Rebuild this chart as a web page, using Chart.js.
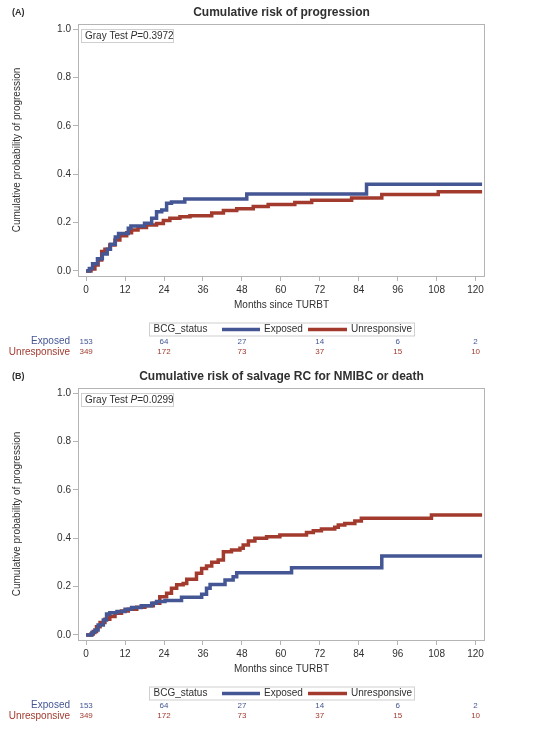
<!DOCTYPE html>
<html>
<head>
<meta charset="utf-8">
<script src="https://cdn.jsdelivr.net/npm/chart.js@4"></script>
<style>
  body { margin: 0; background: #fff; }
  #wrap { width: 533px; height: 738px; position: relative; }
  canvas { position: absolute; left: 0; }
</style>
</head>
<body>
<div id="wrap">
  <canvas id="chartA" width="533" height="364" style="top:0"></canvas>
  <canvas id="chartB" width="533" height="374" style="top:364px"></canvas>
</div>
<script>
// axis ticks
const xTicks = [0, 12, 24, 36, 48, 60, 72, 84, 96, 108, 120];
const yTicks = [0, 0.2, 0.4, 0.6, 0.8, 1.0];

// numbers at risk (same for both panels)
const riskMonths = [0, 24, 48, 72, 96, 120];
const riskExposed = [153, 64, 27, 14, 6, 2];
const riskUnresponsive = [349, 172, 73, 37, 15, 10];

// Panel A - progression, step times (months) and cumulative incidence
const progExposedMonths = [0, 1.0, 2.0, 3.5, 5.0, 6.5, 7.5, 9.0, 10.0, 13.0, 13.8, 18.0, 20.2, 21.7, 23.3, 24.8, 26.3, 30.4, 49.5, 86.4, 122];
const progExposedCif = [0, 0.01, 0.03, 0.05, 0.07, 0.09, 0.11, 0.14, 0.155, 0.176, 0.186, 0.197, 0.218, 0.245, 0.252, 0.28, 0.285, 0.297, 0.318, 0.358, 0.358];
const progUnrespMonths = [0, 1.5, 2.7, 3.7, 4.8, 5.8, 7.3, 8.9, 10.4, 12.5, 14, 16, 18.6, 21.7, 23.8, 25.8, 28.9, 32, 38.7, 42.3, 46.4, 51.5, 56.1, 64.3, 69.5, 81.8, 91.1, 108.5, 122];
const progUnrespCif = [0, 0.008, 0.025, 0.045, 0.08, 0.09, 0.107, 0.128, 0.145, 0.158, 0.169, 0.18, 0.19, 0.196, 0.208, 0.218, 0.224, 0.228, 0.24, 0.25, 0.257, 0.266, 0.275, 0.283, 0.292, 0.302, 0.316, 0.327, 0.327];

// Panel B - salvage RC or death
const rcExposedMonths = [0, 1.8, 2.7, 3.7, 5.3, 6.3, 7.3, 9.5, 12, 14, 17, 20.2, 21.7, 24.3, 29.4, 35.6, 37.1, 38.2, 42.8, 45.3, 46.4, 63.3, 91.1, 122];
const rcExposedCif = [0, 0.01, 0.02, 0.041, 0.062, 0.087, 0.092, 0.097, 0.106, 0.113, 0.121, 0.131, 0.138, 0.142, 0.156, 0.168, 0.193, 0.209, 0.227, 0.241, 0.257, 0.278, 0.326, 0.326];
const rcUnrespMonths = [0, 1.5, 2.2, 3.2, 4.3, 5.8, 7.3, 8.9, 10.9, 13, 15.6, 18.1, 20.7, 22.7, 24.8, 26.3, 27.9, 29.9, 31, 34, 35.6, 37.1, 38.7, 40.7, 42.3, 44.8, 47.4, 48.4, 50, 52, 55.6, 59.7, 67.9, 70, 72.5, 76.6, 77.7, 79.7, 82.8, 84.8, 106.4, 122];
const rcUnrespCif = [0, 0.004, 0.014, 0.034, 0.051, 0.065, 0.076, 0.09, 0.099, 0.106, 0.114, 0.121, 0.131, 0.158, 0.172, 0.193, 0.207, 0.213, 0.23, 0.255, 0.275, 0.285, 0.30, 0.31, 0.344, 0.351, 0.358, 0.372, 0.388, 0.40, 0.406, 0.413, 0.423, 0.431, 0.438, 0.445, 0.454, 0.461, 0.471, 0.482, 0.496, 0.496];

const BLUE = '#445694';
const RED = '#A23A2E';
const FRAME = '#b4b4b4';
const TEXT = '#303030';
const FONT = '"Liberation Sans", Arial, sans-serif';

const toPoints = (months, cif) => months.map((m, i) => ({ x: m, y: cif[i] }));

// titles, frame, p-value box, legend and the at-risk table
const extras = {
  id: 'extras',
  afterDraw(chart, args, opts) {
    const { ctx, chartArea: a, scales: { x } } = chart;
    const midX = (a.left + a.right) / 2;
    ctx.save();

    // plot frame
    ctx.strokeStyle = FRAME;
    ctx.lineWidth = 1;
    ctx.strokeRect(a.left + 0.5, a.top + 0.5, a.right - a.left - 1, a.bottom - a.top);

    ctx.fillStyle = TEXT;
    ctx.textBaseline = 'middle';
    ctx.font = 'bold 9px ' + FONT;
    ctx.textAlign = 'left';
    ctx.fillText(opts.label, 12, 13);
    ctx.font = 'bold 12px ' + FONT;
    ctx.textAlign = 'center';
    ctx.fillText(opts.title, midX, 13);

    // axis titles
    ctx.font = '10px ' + FONT;
    ctx.fillText('Months since TURBT', midX, a.bottom + 29.5);
    ctx.save();
    ctx.translate(17, (a.top + a.bottom) / 2);
    ctx.rotate(-Math.PI / 2);
    ctx.fillText('Cumulative probability of progression', 0, 0);
    ctx.restore();

    // Gray test box
    ctx.strokeStyle = '#cfcfcf';
    ctx.strokeRect(a.left + 3.5, a.top + 5.5, 92, 13);
    ctx.textAlign = 'left';
    let tx = a.left + 7;
    const ty = a.top + 12;
    ctx.font = '10px ' + FONT;
    ctx.fillText('Gray Test ', tx, ty);
    tx += ctx.measureText('Gray Test ').width;
    ctx.font = 'italic 10px ' + FONT;
    ctx.fillText('P', tx, ty);
    tx += ctx.measureText('P').width;
    ctx.font = '10px ' + FONT;
    ctx.fillText('=' + opts.pValue, tx, ty);

    // legend
    const ly = a.bottom + 46.5;
    ctx.strokeStyle = '#cfcfcf';
    ctx.strokeRect(149.5, ly + 0.5, 265, 13);
    const lm = ly + 7;
    ctx.fillText('BCG_status', 153.5, lm);
    ctx.lineWidth = 3.5;
    ctx.strokeStyle = BLUE;
    ctx.beginPath(); ctx.moveTo(222, lm); ctx.lineTo(260, lm); ctx.stroke();
    ctx.fillText('Exposed', 264, lm);
    ctx.strokeStyle = RED;
    ctx.beginPath(); ctx.moveTo(308, lm); ctx.lineTo(347, lm); ctx.stroke();
    ctx.fillText('Unresponsive', 351, lm);

    // numbers at risk
    const rows = [[opts.riskLabels[0], riskExposed, BLUE, a.bottom + 65.3],
                  [opts.riskLabels[1], riskUnresponsive, RED, a.bottom + 76.2]];
    rows.forEach(([name, vals, col, ry]) => {
      ctx.fillStyle = col;
      ctx.font = '10px ' + FONT;
      ctx.textAlign = 'right';
      ctx.fillText(name, 70, ry);
      ctx.font = '8px ' + FONT;
      ctx.textAlign = 'center';
      vals.forEach((v, i) => ctx.fillText(String(v), x.getPixelForValue(riskMonths[i]), ry));
    });
    ctx.restore();
  }
};

function makePanel(id, p) {
  const canvas = document.getElementById(id);
  return new Chart(canvas, {
    type: 'line',
    data: {
      datasets: [
        { label: 'Exposed', data: toPoints(p.exposedMonths, p.exposedCif), borderColor: BLUE },
        { label: 'Unresponsive', data: toPoints(p.unrespMonths, p.unrespCif), borderColor: RED }
      ].map(d => Object.assign(d, { stepped: 'before', borderWidth: 3.5, pointRadius: 0, fill: false }))
    },
    options: {
      responsive: false,
      animation: false,
      layout: { padding: { left: 48, right: 48, top: 24, bottom: canvas.height - 276 - 30 } },
      plugins: {
        legend: { display: false },
        tooltip: { enabled: false },
        extras: p
      },
      scales: {
        x: {
          type: 'linear',
          min: -2.5,
          max: 122.9,
          afterBuildTicks: s => { s.ticks = xTicks.map(v => ({ value: v })); },
          afterFit: s => { s.height = 30; },
          ticks: { color: TEXT, font: { family: FONT, size: 10 }, padding: 3, maxRotation: 0, autoSkip: false },
          grid: { drawOnChartArea: false, drawTicks: true, tickLength: 5, color: FRAME },
          border: { display: false }
        },
        y: {
          type: 'linear',
          min: -0.021,
          max: 1.021,
          afterBuildTicks: s => { s.ticks = yTicks.map(v => ({ value: v })); },
          afterFit: s => { s.width = 30; },
          ticks: { color: TEXT, font: { family: FONT, size: 10 }, padding: 2, callback: v => v.toFixed(1) },
          grid: { drawOnChartArea: false, drawTicks: true, tickLength: 5, color: FRAME },
          border: { display: false }
        }
      }
    },
    plugins: [extras]
  });
}

makePanel('chartA', {
  label: '(A)',
  title: 'Cumulative risk of progression',
  pValue: '0.3972',
  riskLabels: ['Exposed', 'Unresponsive'],
  exposedMonths: progExposedMonths, exposedCif: progExposedCif,
  unrespMonths: progUnrespMonths, unrespCif: progUnrespCif
});

makePanel('chartB', {
  label: '(B)',
  title: 'Cumulative risk of salvage RC for NMIBC or death',
  pValue: '0.0299',
  riskLabels: ['Exposed', 'Unresponsive'],
  exposedMonths: rcExposedMonths, exposedCif: rcExposedCif,
  unrespMonths: rcUnrespMonths, unrespCif: rcUnrespCif
});
</script>
</body>
</html>
